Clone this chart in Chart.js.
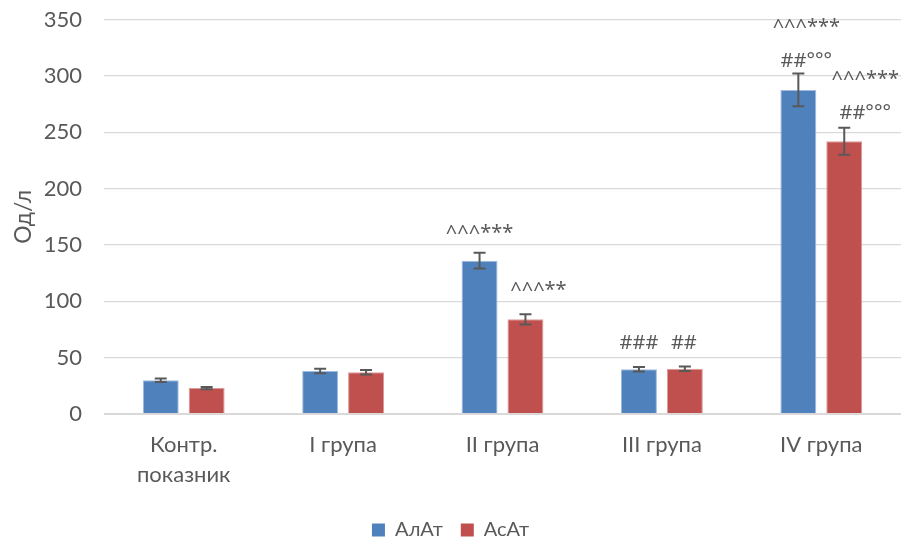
<!DOCTYPE html>
<html>
<head>
<meta charset="utf-8">
<script src="https://cdn.jsdelivr.net/npm/chart.js@4"></script>
<style>
  html, body { margin: 0; padding: 0; background: #ffffff; }
  #wrap { width: 901px; height: 537px; }
</style>
</head>
<body>
<div id="wrap"><canvas id="c" width="901" height="537"></canvas></div>
<script>
// Groups and enzyme activity (U/l)
const categories = [['Контр.', 'показник'], 'I група', 'II група', 'III група', 'IV група'];
const alatValues = [30, 38.2, 136, 39.7, 287.5];
const alatErrors = [1.5, 2, 7, 2, 14.5];
const asatValues = [23, 37, 84, 40.2, 242];
const asatErrors = [1, 2, 4.5, 2, 12];
// Significance marks, bottom line last
const alatMarks = [[], [], ['^^^***'], ['###'], ['^^^***', '##°°°']];
const asatMarks = [[], [], ['^^^**'], ['##'], ['^^^***', '##°°°']];

const TEXT = '#595959';
const FONT = 'Lato, "Open Sans", sans-serif';
const MARK_FONT = '"Noto Sans", "Open Sans", sans-serif';

// Placement of the mark text relative to each bar's error cap
const markPlacement = [
  [null, null, {dx: 0, dy: 20}, {dx: 0, dy: 24}, {dx: 8, dy: 12}],
  [null, null, {dx: 13, dy: 24}, {dx: -1, dy: 23}, {dx: 21, dy: 14}]
];

const errorsAndMarks = {
  id: 'errorsAndMarks',
  afterDatasetsDraw(chart) {
    const ctx = chart.ctx;
    const y = chart.scales.y;
    const errs = [alatErrors, asatErrors];
    const marks = [alatMarks, asatMarks];
    ctx.save();
    chart.data.datasets.forEach((ds, di) => {
      const meta = chart.getDatasetMeta(di);
      meta.data.forEach((bar, i) => {
        const v = ds.data[i];
        const e = errs[di][i];
        const top = y.getPixelForValue(v + e);
        const bot = y.getPixelForValue(v - e);
        const x = bar.x;
        ctx.strokeStyle = '#595959';
        ctx.lineWidth = 2;
        ctx.beginPath();
        ctx.moveTo(x, top); ctx.lineTo(x, bot);
        ctx.moveTo(x - 6, top); ctx.lineTo(x + 6, top);
        ctx.moveTo(x - 6, bot); ctx.lineTo(x + 6, bot);
        ctx.stroke();

        const lines = marks[di][i];
        const p = markPlacement[di][i];
        if (lines.length && p) {
          ctx.fillStyle = TEXT;
          ctx.font = '20px ' + MARK_FONT;
          ctx.textAlign = 'center';
          ctx.textBaseline = 'middle';
          for (let k = 0; k < lines.length; k++) {
            const fromBottom = lines.length - 1 - k;
            ctx.fillText(lines[k], x + p.dx, top - p.dy - fromBottom * 34);
          }
        }
      });
    });
    ctx.restore();
  }
};

new Chart(document.getElementById('c'), {
  type: 'bar',
  data: {
    labels: categories,
    datasets: [
      { label: 'АлАт', data: alatValues, backgroundColor: '#4F81BD', borderColor: '#9fbbdd', borderWidth: 1, borderSkipped: 'bottom' },
      { label: 'АсАт', data: asatValues, backgroundColor: '#C0504D', borderColor: '#dc9a98', borderWidth: 1, borderSkipped: 'bottom' }
    ]
  },
  options: {
    responsive: false,
    animation: false,
    devicePixelRatio: 1,
    categoryPercentage: 0.576,
    barPercentage: 0.783,
    layout: { padding: { top: 19.5, right: 0, bottom: -13, left: 0 } },
    plugins: {
      tooltip: { enabled: false },
      legend: {
        position: 'bottom',
        labels: {
          boxWidth: 13,
          boxHeight: 13,
          padding: 18,
          color: TEXT,
          font: { family: FONT, size: 20 },
          generateLabels(chart) {
            return chart.data.datasets.map((ds, i) => ({
              text: ds.label,
              fillStyle: ds.backgroundColor,
              strokeStyle: ds.backgroundColor,
              lineWidth: 0,
              fontColor: TEXT,
              hidden: false,
              datasetIndex: i
            }));
          }
        }
      }
    },
    scales: {
      x: {
        grid: { display: false, drawTicks: false },
        border: { display: false },
        ticks: { color: TEXT, font: { family: FONT, size: 22, lineHeight: 1.36 }, padding: 16, maxRotation: 0 },
        afterFit(s) { s.height = 88; }
      },
      y: {
        min: 0, max: 350,
        ticks: { stepSize: 50, color: TEXT, font: { family: FONT, size: 22 }, padding: 22 },
        grid: {
          color: '#d9d9d9',
          lineWidth: (c) => (c.tick && c.tick.value === 0 ? 2 : 1.2),
          drawTicks: false
        },
        border: { display: false },
        title: { display: true, text: 'Од/л', color: TEXT, font: { family: FONT, size: 23 }, padding: { top: 10, bottom: 0 } },
        afterFit(s) { s.width = 104; s.paddingTop = 0; s.paddingBottom = 0; }
      }
    }
  },
  plugins: [errorsAndMarks]
});
</script>
</body>
</html>
